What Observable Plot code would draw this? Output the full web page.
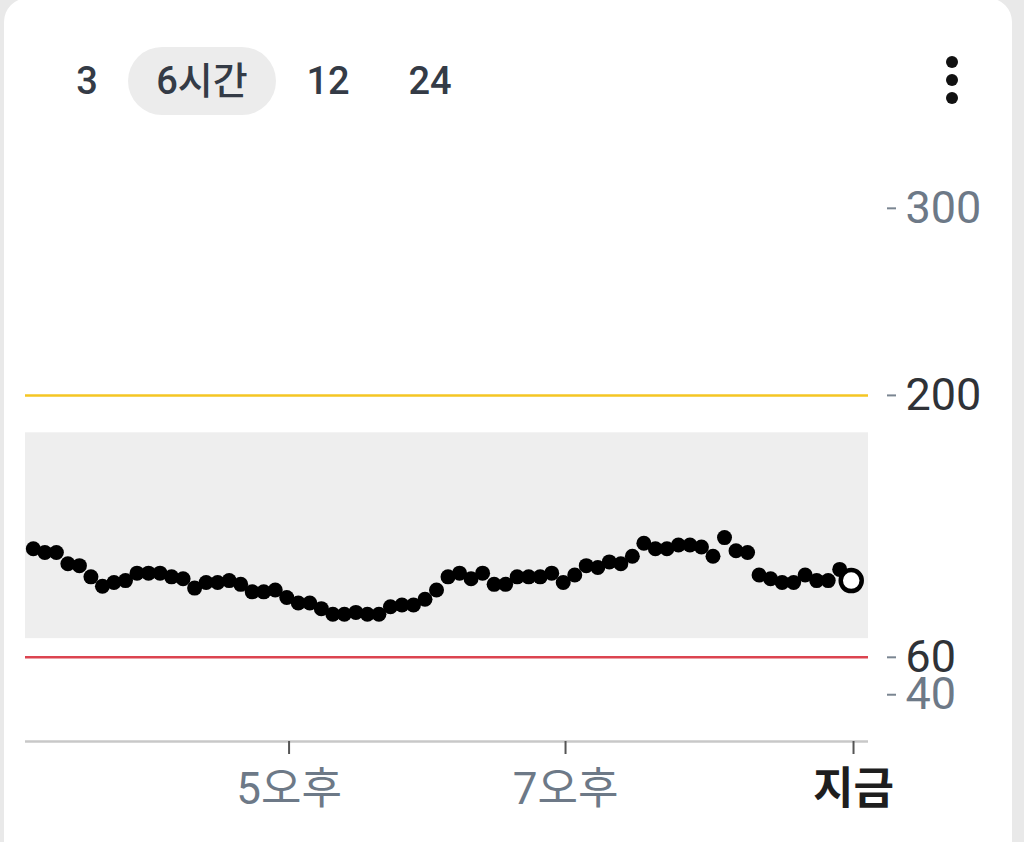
<!DOCTYPE html>
<html>
<head>
<meta charset="utf-8">
<script src="https://cdn.jsdelivr.net/npm/d3@7"></script>
<script src="https://cdn.jsdelivr.net/npm/@observablehq/plot@0.6"></script>
<style>
  html, body { margin: 0; padding: 0; }
  body { width: 1024px; height: 842px; background: #e9e9e9; position: relative; overflow: hidden;
         font-family: Roboto, "Noto Sans CJK KR", sans-serif; }
  #card { position: absolute; left: 4px; top: -2px; width: 1008px; height: 900px; background: #fff; border-radius: 24px; }
  #header { position: absolute; left: 0; top: 0; width: 1024px; height: 120px; }
  .rng { position: absolute; top: 47px; height: 68px; line-height: 68px; font-size: 38px; font-weight: 500;
         color: #343b46; transform: translateX(-50%); white-space: nowrap; }
  .pill { position: absolute; left: 128px; top: 47px; width: 148px; height: 68px; border-radius: 34px; background: #ececec; }
  .menu { position: absolute; width: 12px; height: 12px; border-radius: 6px; background: #111; left: 946px; }
  #chart { position: absolute; left: 0; top: 120px; }
</style>
</head>
<body>
<div id="card"></div>
<div id="header"></div>
<div id="chart"></div>
<script>
// ---- data ----
const rangeOptions = ["3", "6시간", "12", "24"];
const selectedRange = "6시간";
const readingStartUTC = [2024, 0, 1, 15, 9];   // first reading 15:09
const readingIntervalMin = 5;
const glucose = [
  118,116,116,110,109,103,98,100,101,105,
  105,105,103,102,97,100,100,101,99,95,
  95,96,92,89,89,86,83,83,84,83,
  83,87,88,88,91,96,103,105,102,105,
  99,99,103,103,103,105,100,104,109,108,
  111,110,114,121,118,118,120,120,119,114,
  124,117,116,104,102,100,100,104,101,101,
  107,101
];
const targetLow = 70, targetHigh = 180;
const highLine = 200, lowLine = 60;
const yTicksGray = [300, 40];
const yTicksDark = [200, 60];
const yDomain = [15, 340];
const xTickHours = [17, 19];
const xTickLabels = ["5오후", "7오후"];
const nowLabel = "지금";
const nowTime = [2024, 0, 1, 21, 5];
const xDomainTimes = [[2024, 0, 1, 15, 5, 36], [2024, 0, 1, 21, 11, 30]];

// ---- header ----
const header = document.getElementById("header");
const pill = document.createElement("div"); pill.className = "pill"; header.appendChild(pill);
const centers = [87, 202, 328, 430];
rangeOptions.forEach((t, i) => {
  const s = document.createElement("div");
  s.className = "rng"; s.textContent = t; s.style.left = centers[i] + "px";
  header.appendChild(s);
});
[56, 74, 92].forEach(t => {
  const m = document.createElement("div"); m.className = "menu"; m.style.top = t + "px"; header.appendChild(m);
});

// ---- chart ----
const t0 = Date.UTC(...readingStartUTC);
const data = glucose.map((v, i) => ({time: new Date(t0 + i * readingIntervalMin * 60000), value: v}));
const last = data[data.length - 1];
const xDomain = xDomainTimes.map(a => new Date(Date.UTC(...a)));
const nowDate = new Date(Date.UTC(...nowTime));
const xTicks = xTickHours.map(h => new Date(Date.UTC(2024, 0, 1, h, 0)));
const labelOf = new Map(xTicks.map((d, i) => [+d, xTickLabels[i]]));

const chart = Plot.plot({
  width: 1024,
  height: 722,
  marginLeft: 25,
  marginRight: 156,
  marginTop: 13,
  marginBottom: 101,
  style: {fontFamily: "Roboto, 'Noto Sans CJK KR', sans-serif", background: "transparent", overflow: "visible"},
  x: {type: "utc", domain: xDomain},
  y: {domain: yDomain},
  marks: [
    Plot.rect([{y1: targetLow, y2: targetHigh}], {y1: "y1", y2: "y2", fill: "#eeeeee"}),
    Plot.ruleY([highLine], {stroke: "#f5c623", strokeWidth: 2.5}),
    Plot.ruleY([lowLine], {stroke: "#dc4450", strokeWidth: 2.5}),
    Plot.ruleY([yDomain[0]], {stroke: "#c8c8c8", strokeWidth: 2.5}),
    Plot.axisY(yTicksGray, {anchor: "right", tickSize: 9, dx: 18, tickPadding: 10, fontSize: 45,
      stroke: "#7a8591", fill: "#6d7987", strokeWidth: 2, label: null}),
    Plot.axisY(yTicksDark, {anchor: "right", tickSize: 9, dx: 18, tickPadding: 10, fontSize: 45,
      stroke: "#7a8591", fill: "#2f3237", strokeWidth: 2, label: null}),
    Plot.axisX(xTicks, {anchor: "bottom", tickSize: 13, tickPadding: 18, fontSize: 44,
      stroke: "#555", fill: "#6d7987", strokeWidth: 2, tickFormat: d => labelOf.get(+d), label: null}),
    Plot.axisX([nowDate], {anchor: "bottom", tickSize: 13, tickPadding: 18, fontSize: 44, fontWeight: "bold",
      stroke: "#555", fill: "#1e1e1e", strokeWidth: 2, tickFormat: () => nowLabel, label: null}),
    Plot.dot(data.slice(0, -1), {x: "time", y: "value", r: 7.5, fill: "#000"}),
    Plot.dot([last], {x: "time", y: "value", r: 10.5, fill: "#fff", stroke: "#000", strokeWidth: 4.5})
  ]
});
document.getElementById("chart").appendChild(chart);
</script>
</body>
</html>
